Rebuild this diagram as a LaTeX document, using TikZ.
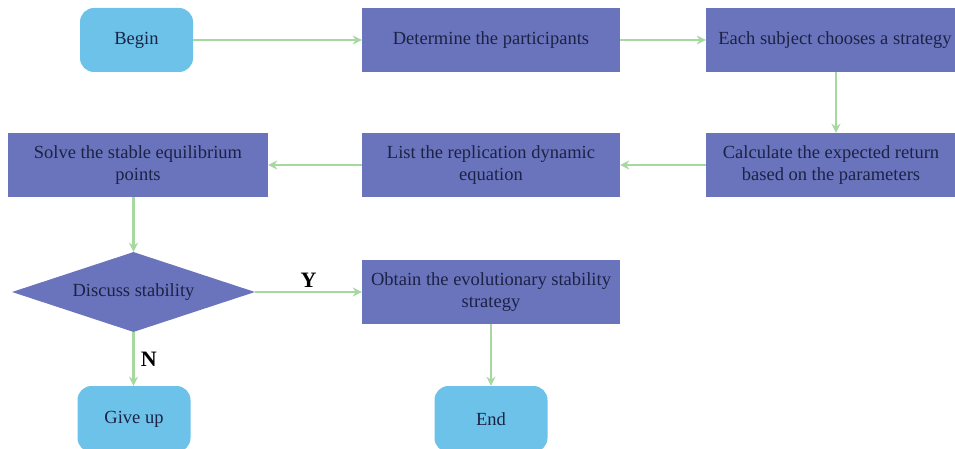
\documentclass[tikz,border=0pt]{standalone}
\usepackage{fontspec}
\setmainfont{Liberation Serif}
\usetikzlibrary{shapes.geometric,arrows.meta}
\definecolor{boxblue}{HTML}{6A74BC}
\definecolor{termblue}{HTML}{6CC2E8}
\definecolor{arrgreen}{HTML}{A6D8A0}
\definecolor{txt}{HTML}{1C2245}
\begin{document}
\begin{tikzpicture}[x=1pt,y=-1pt,
  every node/.style={font=\fontsize{18.5}{22.5}\selectfont, text=txt},
  procbox/.style={fill=boxblue, draw=none, minimum width=258pt, minimum height=64pt, align=center, inner sep=0pt},
  termbox/.style={fill=termblue, draw=none, rounded corners=14pt, minimum width=113pt, minimum height=64pt, inner sep=0pt},
  decbox/.style={diamond, fill=boxblue, draw=none, aspect=3, minimum width=243pt, minimum height=80pt, inner sep=0pt},
  flow/.style={draw=arrgreen, line width=2.2pt, -{Stealth[length=9pt,width=9pt]}},
  yn/.style={font=\fontsize{22}{24}\selectfont\bfseries, text=black}]
\useasboundingbox (0,0) rectangle (955,449);
\node[termbox] (begin) at (136.5,40) {Begin};
\node[procbox] (det) at (491,40) {Determine the participants};
\node[procbox, minimum width=250pt] (each) at (831,40) {\hspace*{8pt}Each subject chooses a strategy};
\node[procbox, minimum width=250pt] (calc) at (831,165) {Calculate the expected return\\based on the parameters};
\node[procbox] (list) at (491,165) {List the replication dynamic\\equation};
\node[procbox, minimum width=260pt] (solve) at (138,165) {Solve the stable equilibrium\\points};
\node[decbox] (disc) at (133.5,292) {Discuss stability};
\node[procbox] (obt) at (491,292) {Obtain the evolutionary stability\\strategy};
\node[termbox, minimum height=66pt] (give) at (134,419) {Give up};
\node[termbox, minimum height=66pt] (end) at (491,419) {End};
\draw[flow] (begin) -- (det);
\draw[flow] (det) -- (each);
\draw[flow] (each.south -| 836,0) -- (calc.north -| 836,0);
\draw[flow] (calc) -- (list);
\draw[flow] (list) -- (solve);
\draw[flow] (solve.south -| disc.north) -- (disc.north);
\draw[flow] (disc.east) -- node[yn, above=0pt] {Y} (obt.west);
\draw[flow] (disc.south) -- node[yn, right=3pt] {N} (give.north -| disc.south);
\draw[flow] (obt) -- (end);
\end{tikzpicture}
\end{document}
